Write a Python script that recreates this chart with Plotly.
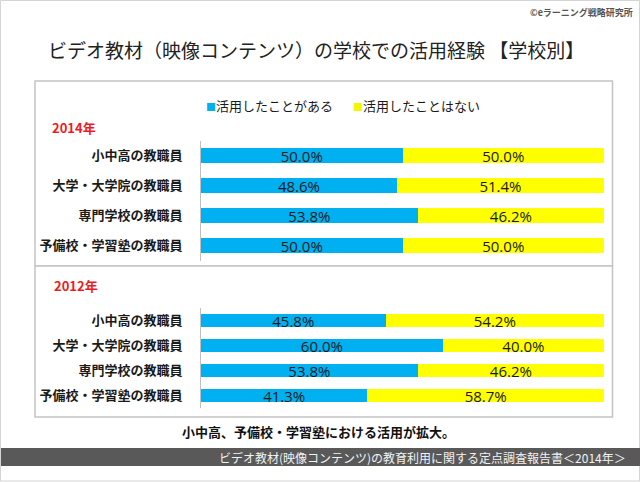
import plotly.graph_objects as go

categories = ["小中高の教職員", "大学・大学院の教職員", "専門学校の教職員", "予備校・学習塾の教職員"]
used_2014 = [50.0, 48.6, 53.8, 50.0]
notused_2014 = [50.0, 51.4, 46.2, 50.0]
used_2012 = [45.8, 60.0, 53.8, 41.3]
notused_2012 = [54.2, 40.0, 46.2, 58.7]
series_names = ["活用したことがある", "活用したことはない"]

W, H = 640, 482
BLUE = "#00b0f0"
YELLOW = "#ffff00"
JP = "Noto Sans CJK JP"

def px(x):
    return x / W

def py(y):
    return 1 - y / H

fig = go.Figure()

def add_bar(vals, name, color, xa, ya, show, width):
    fig.add_trace(go.Bar(
        y=categories, x=vals, name=name, orientation="h",
        marker=dict(color=color, line=dict(width=0)),
        xaxis=xa, yaxis=ya, showlegend=show, width=width,
        texttemplate="%{x:.1f}%", textposition="inside", insidetextanchor="middle",
        textangle=0, constraintext="none",
        textfont=dict(size=15, color="#1a1a1a", family="Open Sans"),
        hoverinfo="skip",
    ))

add_bar(used_2014, series_names[0], BLUE, "x", "y", True, 0.5)
add_bar(notused_2014, series_names[1], YELLOW, "x", "y", True, 0.5)
add_bar(used_2012, series_names[0], BLUE, "x2", "y2", False, 0.52)
add_bar(notused_2012, series_names[1], YELLOW, "x2", "y2", False, 0.52)

xdom = [px(201), px(604)]
common_x = dict(range=[0, 100], domain=xdom, showgrid=False, zeroline=False,
                showticklabels=False, showline=False, fixedrange=True)
common_y = dict(autorange="reversed", showgrid=False, zeroline=False, showline=True,
                linecolor="#c0c0c0", linewidth=1, ticks="", ticklabelstandoff=15,
                tickfont=dict(size=13, color="#1a1a1a", family=JP, weight="bold"),
                fixedrange=True)

shapes = [
    dict(type="rect", xref="paper", yref="paper", x0=px(0.5), x1=px(639.5), y0=py(481), y1=py(0.5),
         line=dict(color="#d4d4d4", width=1), layer="below"),
    dict(type="rect", xref="paper", yref="paper", x0=px(35), x1=px(612.5), y0=py(266), y1=py(81),
         line=dict(color="#c4c4c4", width=1.5), fillcolor="white", layer="below"),
    dict(type="rect", xref="paper", yref="paper", x0=px(35), x1=px(612.5), y0=py(417), y1=py(266),
         line=dict(color="#c4c4c4", width=1.5), fillcolor="white", layer="below"),
    dict(type="rect", xref="paper", yref="paper", x0=px(1), x1=px(640), y0=py(466), y1=py(448),
         line=dict(width=0), fillcolor="#595959", layer="below"),
]

annotations = [
    dict(text="ビデオ教材（映像コンテンツ）の学校での活用経験 【学校別】", x=px(316), y=py(50),
         xref="paper", yref="paper", showarrow=False, xanchor="center", yanchor="middle",
         font=dict(size=19, color="#222222", family=JP)),
    dict(text="©eラーニング戦略研究所", x=px(635), y=py(12), xref="paper", yref="paper",
         showarrow=False, xanchor="right", yanchor="middle",
         font=dict(size=9, color="#555555", family=JP, weight="bold")),
    dict(text="2014年", x=px(50), y=py(128), xref="paper", yref="paper", showarrow=False,
         xanchor="left", yanchor="middle", font=dict(size=13, color="#ee1c1c", family=JP, weight="bold")),
    dict(text="2012年", x=px(52), y=py(285), xref="paper", yref="paper", showarrow=False,
         xanchor="left", yanchor="middle", font=dict(size=13, color="#ee1c1c", family=JP, weight="bold")),
    dict(text="小中高、予備校・学習塾における活用が拡大。", x=px(318), y=py(431), xref="paper", yref="paper",
         showarrow=False, xanchor="center", yanchor="middle",
         font=dict(size=13, color="#111111", family=JP, weight="bold")),
    dict(text="ビデオ教材(映像コンテンツ)の教育利用に関する定点調査報告書＜2014年＞", x=px(628), y=py(457),
         xref="paper", yref="paper", showarrow=False, xanchor="right", yanchor="middle",
         font=dict(size=12, color="#f2f2f2", family=JP)),
    # legend entries
    dict(text=f"<span style='color:{BLUE}; font-size:10px'>■</span>{series_names[0]}", x=px(204), y=py(105),
         xref="paper", yref="paper", showarrow=False, xanchor="left", yanchor="middle",
         font=dict(size=13, color="#1a1a1a", family=JP)),
    dict(text=f"<span style='color:#f5f500; font-size:10px'>■</span>{series_names[1]}", x=px(351), y=py(105),
         xref="paper", yref="paper", showarrow=False, xanchor="left", yanchor="middle",
         font=dict(size=13, color="#1a1a1a", family=JP)),
]

fig.update_layout(
    width=W, height=H, margin=dict(l=0, r=0, t=0, b=0),
    paper_bgcolor="white", plot_bgcolor="rgba(0,0,0,0)",
    barmode="stack", showlegend=False,
    xaxis=dict(**common_x, anchor="y"),
    yaxis=dict(**common_y, domain=[py(260.5), py(140.5)], anchor="x"),
    xaxis2=dict(**common_x, anchor="y2"),
    yaxis2=dict(**common_y, domain=[py(408), py(308)], anchor="x2"),
    shapes=shapes, annotations=annotations,
    font=dict(family=JP),
)

fig.write_html("out.html", config={"displayModeBar": False},
               post_script="document.body.style.margin='0';document.body.style.padding='0';")
